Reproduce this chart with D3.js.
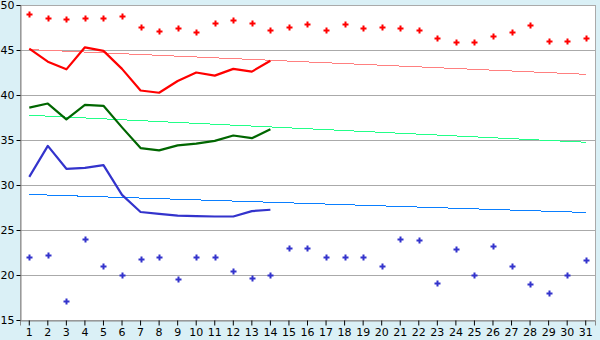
<!DOCTYPE html>
<html>
<head>
<meta charset="utf-8">
<script src="https://cdn.jsdelivr.net/npm/d3@7"></script>
<style>
  body { margin: 0; background: #daf0f6; }
  svg { display: block; }
  text { font-family: "DejaVu Sans", Verdana, sans-serif; font-size: 11px; fill: #000; }
</style>
</head>
<body>
<div id="viz"></div>
<script>
const days = d3.range(1, 32);

// scatter series
const redPoints = [49.0, 48.5, 48.4, 48.5, 48.6, 48.8, 47.5, 47.1, 47.4, 47.0,
  48.0, 48.3, 48.0, 47.2, 47.5, 47.85, 47.2, 47.85, 47.4, 47.5,
  47.4, 47.2, 46.3, 45.85, 45.85, 46.5, 47.0, 47.75, 45.95, 45.95, 46.3];
const bluePoints = [22.0, 22.2, 17.1, 24.0, 21.0, 20.0, 21.75, 22.0, 19.55, 22.0,
  22.0, 20.5, 19.65, 20.0, 23.0, 23.0, 22.0, 22.0, 22.0, 21.0,
  24.0, 23.85, 19.1, 22.85, 20.0, 23.2, 21.0, 18.95, 17.95, 20.0, 21.65];

// lines, days 1-14
const redLine = [45.15, 43.7, 42.85, 45.3, 44.9, 42.9, 40.5, 40.25, 41.55, 42.5, 42.15, 42.9, 42.6, 43.8];
const greenLine = [38.6, 39.05, 37.3, 38.9, 38.8, 36.4, 34.1, 33.85, 34.4, 34.6, 34.9, 35.5, 35.2, 36.2];
const blueLine = [30.9, 34.35, 31.8, 31.9, 32.2, 28.9, 27.0, 26.8, 26.6, 26.55, 26.5, 26.5, 27.1, 27.25];

// trend lines: value at day 1 and day 31
const trendDays = [1, 31];
const redTrend = [45.05, 42.3];
const greenTrend = [37.75, 34.75];
const blueTrend = [28.95, 26.95];

const yTicks = [15, 20, 25, 30, 35, 40, 45, 50];

const W = 600, H = 340;
const m = { left: 20, right: 595, top: 5, bottom: 320 };

const svg = d3.select('#viz').append('svg')
  .attr('width', W).attr('height', H);

const x = d3.scaleBand().domain(days).range([m.left, m.right]);
const cx = d => x(d) + x.bandwidth() / 2;
const y = d3.scaleLinear().domain([15, 50]).range([m.bottom, m.top]);

// plot area
svg.append('rect')
  .attr('x', m.left + 0.5).attr('y', m.top + 0.5)
  .attr('width', m.right - m.left).attr('height', m.bottom - m.top)
  .attr('fill', '#fff').attr('stroke', '#aaa');

// grid
svg.append('g')
  .selectAll('line')
  .data(yTicks.slice(1, -1))
  .join('line')
  .attr('x1', m.left).attr('x2', m.right)
  .attr('y1', d => Math.round(y(d)) + 0.5).attr('y2', d => Math.round(y(d)) + 0.5)
  .attr('stroke', '#aaa');

// axes
const yAxis = svg.append('g')
  .attr('transform', `translate(${m.left + 0.5},0)`)
  .call(d3.axisLeft(y).tickValues(yTicks).tickSize(4).tickPadding(2));
yAxis.select('.domain').attr('stroke', '#888');
yAxis.selectAll('.tick line').attr('stroke', '#000');
yAxis.selectAll('text').style('font-size', '11px');

const xAxis = svg.append('g')
  .attr('transform', `translate(0,${m.bottom + 0.5})`)
  .call(d3.axisBottom(x).tickSize(5).tickPadding(3));
xAxis.select('.domain').attr('stroke', '#888');
xAxis.selectAll('.tick line').attr('stroke', '#000');
xAxis.selectAll('text').style('font-size', '11px');

// trend lines
const trendLine = d3.line().x((d, i) => cx(trendDays[i])).y(d => y(d));
[[redTrend, '#ff8080'], [greenTrend, '#22ff88'], [blueTrend, '#0a7fff']].forEach(([vals, color]) => {
  svg.append('path')
    .datum(vals)
    .attr('d', trendLine)
    .attr('fill', 'none')
    .attr('stroke', color)
    .attr('stroke-width', 1)
    .attr('shape-rendering', 'crispEdges');
});

// thick lines
const line = d3.line().x((d, i) => cx(days[i])).y(d => y(d));
[[redLine, '#ff0000'], [greenLine, '#006600'], [blueLine, '#3333cc']].forEach(([vals, color]) => {
  svg.append('path')
    .datum(vals)
    .attr('d', line)
    .attr('fill', 'none')
    .attr('stroke', color)
    .attr('stroke-width', 2.2)
    .attr('stroke-linejoin', 'round');
});

// markers: small plus / star shape
const marker = 'M-1,-3h2v2h2v2h-2v2h-2v-2h-2v-2h2z';
[[redPoints, '#ff0000'], [bluePoints, '#3333cc']].forEach(([vals, color]) => {
  svg.append('g')
    .selectAll('path')
    .data(vals)
    .join('path')
    .attr('d', marker)
    .attr('transform', (d, i) => `translate(${Math.round(cx(days[i])) + 0.5},${Math.round(y(d)) + 0.5})`)
    .attr('fill', color);
});
</script>
</body>
</html>
